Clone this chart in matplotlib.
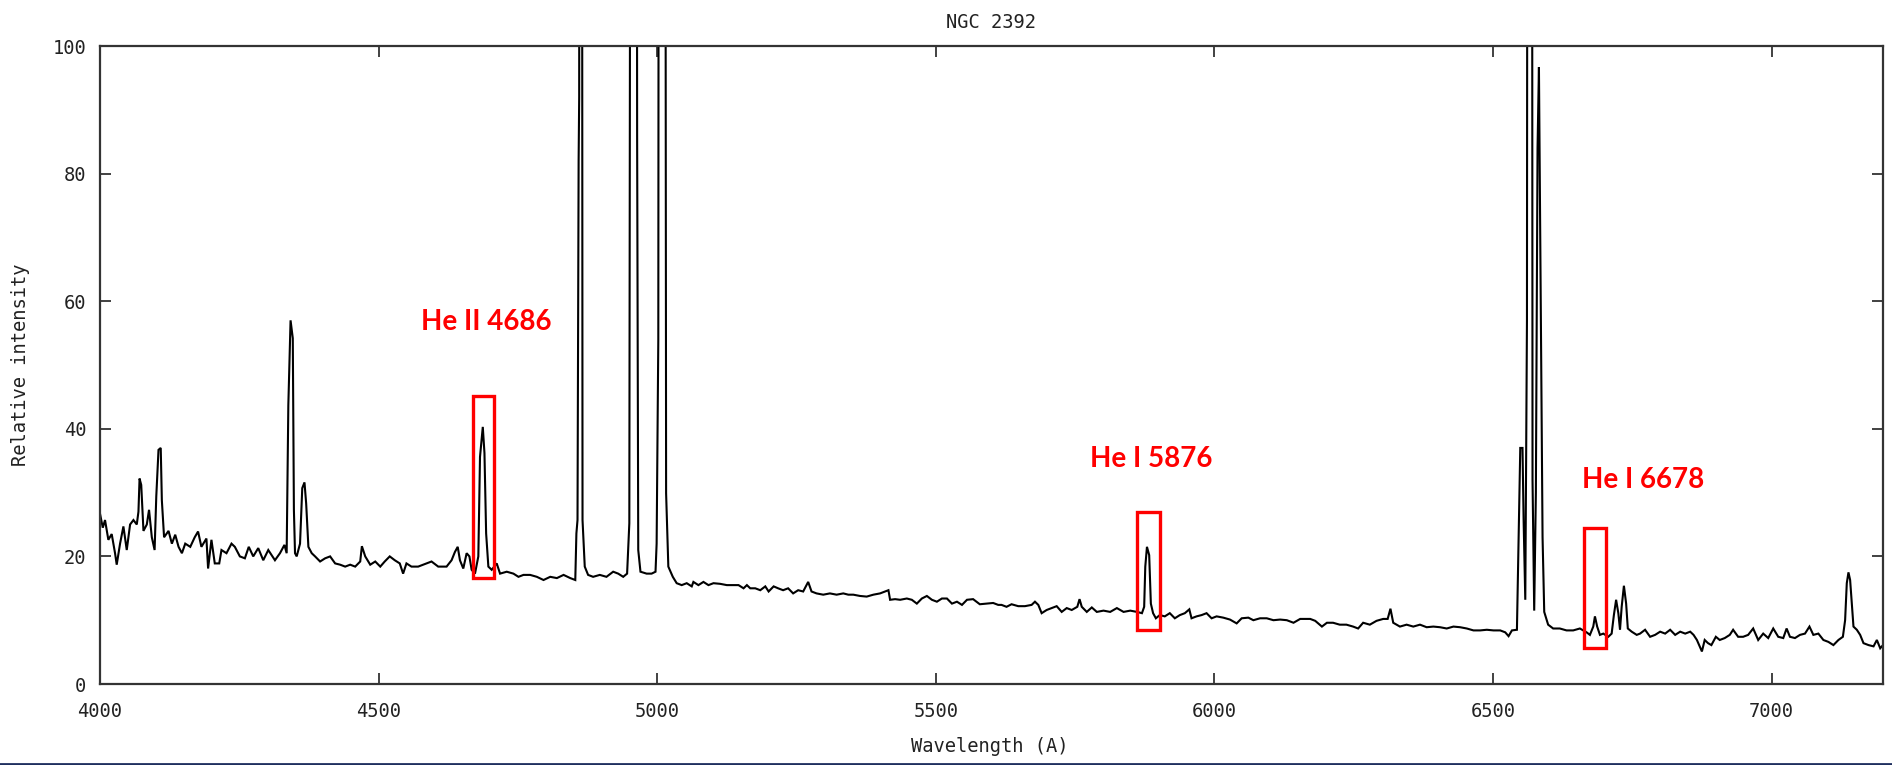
import matplotlib
matplotlib.use("Agg")
import matplotlib.pyplot as plt
from matplotlib.patches import Rectangle
from matplotlib.lines import Line2D

# ---------------- data ----------------
wavelength = [
    4000, 4005, 4009, 4015, 4021, 4027, 4030, 4036, 4042, 4048, 4054, 4060, 4066, 4069, 4071, 4074,
    4078, 4084, 4088, 4093, 4098, 4101, 4105, 4109, 4111, 4115, 4123, 4129, 4135, 4141, 4147, 4153,
    4162, 4170, 4176, 4182, 4191, 4194, 4200, 4206, 4214, 4218, 4227, 4236, 4242, 4251, 4260, 4267,
    4275, 4284, 4293, 4302, 4314, 4323, 4331, 4335, 4338, 4342, 4346, 4348, 4350, 4353, 4359, 4363,
    4367, 4370, 4374, 4380, 4386, 4395, 4404, 4413, 4422, 4431, 4440, 4449, 4458, 4467, 4470, 4476,
    4485, 4494, 4503, 4511, 4520, 4529, 4538, 4544, 4550, 4559, 4571, 4580, 4595, 4607, 4622, 4631,
    4637, 4642, 4646, 4652, 4658, 4663, 4667, 4673, 4679, 4682, 4687, 4690, 4693, 4697, 4703, 4712,
    4718, 4730, 4742, 4751, 4760, 4772, 4784, 4796, 4808, 4820, 4832, 4844, 4853, 4855, 4857, 4859,
    4860, 4861.5, 4864, 4866, 4870, 4876, 4885, 4897, 4909, 4921, 4930, 4939, 4946, 4950, 4954, 4962,
    4964, 4966, 4970, 4981, 4990, 4997, 4999, 5002, 5004, 5013, 5016, 5020, 5028, 5035, 5044, 5053,
    5062, 5065, 5074, 5083, 5092, 5101, 5113, 5125, 5137, 5146, 5155, 5161, 5167, 5176, 5185, 5194,
    5200, 5209, 5217, 5226, 5235, 5244, 5253, 5262, 5271, 5277, 5286, 5298, 5310, 5322, 5334, 5343,
    5352, 5364, 5376, 5388, 5400, 5409, 5415, 5418, 5427, 5436, 5448, 5457, 5466, 5475, 5484, 5493,
    5502, 5511, 5520, 5529, 5538, 5547, 5556, 5567, 5579, 5591, 5603, 5612, 5618, 5627, 5636, 5648,
    5660, 5672, 5678, 5684, 5690, 5699, 5708, 5717, 5726, 5735, 5744, 5754, 5758, 5762, 5771, 5780,
    5789, 5801, 5813, 5825, 5837, 5849, 5861, 5870, 5874, 5876, 5879, 5883, 5886, 5890, 5895, 5902,
    5911, 5920, 5929, 5938, 5947, 5955, 5959, 5968, 5977, 5986, 5995, 6004, 6016, 6028, 6040, 6049,
    6061, 6070, 6082, 6094, 6106, 6118, 6130, 6142, 6154, 6172, 6181, 6193, 6202, 6213, 6225, 6237,
    6249, 6258, 6267, 6279, 6291, 6303, 6311, 6316, 6321, 6333, 6345, 6357, 6369, 6381, 6393, 6405,
    6417, 6429, 6441, 6453, 6465, 6477, 6489, 6501, 6513, 6522, 6528, 6534, 6543, 6546, 6549, 6553,
    6555, 6558, 6561, 6563, 6569, 6571, 6574, 6577, 6580, 6582.5, 6585, 6589, 6592, 6599, 6608, 6620,
    6632, 6644, 6656, 6668, 6674, 6680, 6683, 6687, 6692, 6698, 6707, 6713, 6717, 6721, 6725, 6728,
    6731, 6735, 6739, 6742, 6749, 6758, 6764, 6773, 6782, 6791, 6800, 6809, 6818, 6827, 6836, 6845,
    6854, 6860, 6866, 6870, 6875, 6880, 6886, 6892, 6900, 6907, 6916, 6925, 6931, 6940, 6949, 6958,
    6967, 6976, 6985, 6994, 7003, 7012, 7021, 7027, 7033, 7042, 7051, 7060, 7068, 7075, 7084, 7093,
    7102, 7111, 7120, 7128, 7132, 7135, 7138, 7141, 7144, 7147, 7153, 7159, 7165, 7174, 7183, 7189,
    7195, 7200,
]

intensity = [
    26.7, 24.5, 25.7, 22.6, 23.5, 20.5, 18.7, 22.0, 24.7, 21.0, 25.0, 25.7, 25.0, 27.0, 32.2, 31.2,
    24.0, 25.0, 27.3, 23.0, 21.0, 29.4, 36.7, 37.0, 28.8, 23.0, 24.0, 22.0, 23.4, 21.5, 20.5, 22.0,
    21.5, 23.0, 23.9, 21.5, 22.8, 18.1, 22.6, 18.9, 18.9, 21.0, 20.5, 22.0, 21.5, 20.0, 19.7, 21.5,
    20.0, 21.3, 19.4, 21.0, 19.4, 20.5, 21.8, 20.5, 43.7, 57.0, 54.2, 27.3, 20.5, 20.0, 22.0, 30.7,
    31.6, 28.3, 21.5, 20.5, 20.0, 19.2, 19.7, 20.0, 18.9, 18.7, 18.4, 18.7, 18.4, 19.2, 21.6, 20.0,
    18.7, 19.2, 18.4, 19.2, 20.0, 19.4, 18.9, 17.3, 18.9, 18.4, 18.4, 18.7, 19.2, 18.4, 18.4, 19.4,
    20.7, 21.5, 19.4, 18.1, 20.5, 20.0, 17.9, 17.3, 20.0, 35.6, 40.3, 36.2, 23.6, 18.4, 17.9, 18.9,
    17.3, 17.6, 17.3, 16.8, 17.1, 17.1, 16.8, 16.3, 16.8, 16.6, 17.1, 16.6, 16.3, 23.6, 25.7, 82.0,
    92.0, 300.0, 300.0, 25.7, 18.4, 17.1, 16.8, 17.1, 16.8, 17.6, 17.3, 16.8, 17.3, 25.2, 300.0, 300.0,
    86.0, 21.0, 17.6, 17.3, 17.3, 17.6, 22.0, 54.0, 300.0, 300.0, 29.9, 18.4, 16.8, 15.8, 15.5, 15.8,
    15.3, 16.0, 15.5, 16.0, 15.5, 15.8, 15.7, 15.5, 15.5, 15.5, 15.0, 15.5, 15.0, 15.0, 14.7, 15.3,
    14.5, 15.3, 15.0, 14.7, 15.0, 14.2, 14.7, 14.5, 16.0, 14.5, 14.2, 14.0, 14.2, 14.0, 14.2, 14.0,
    14.0, 13.8, 13.7, 14.0, 14.2, 14.5, 14.7, 13.2, 13.3, 13.2, 13.4, 13.2, 12.6, 13.4, 13.8, 13.2,
    12.9, 13.4, 13.4, 12.6, 12.9, 12.4, 13.2, 13.3, 12.5, 12.6, 12.7, 12.4, 12.4, 12.1, 12.5, 12.2,
    12.2, 12.4, 12.9, 12.4, 11.1, 11.6, 11.9, 12.2, 11.3, 11.9, 11.6, 12.1, 13.3, 12.1, 11.3, 12.0,
    11.3, 11.5, 11.3, 11.9, 11.3, 11.5, 11.3, 11.1, 12.1, 18.4, 21.5, 20.2, 12.6, 11.1, 10.3, 10.8,
    10.6, 11.1, 10.3, 10.8, 11.1, 11.7, 10.3, 10.6, 10.8, 11.1, 10.3, 10.6, 10.4, 10.1, 9.5, 10.3,
    10.4, 10.0, 10.3, 10.3, 10.0, 10.1, 10.0, 9.6, 10.2, 10.2, 9.9, 9.0, 9.6, 9.6, 9.3, 9.3,
    9.0, 8.7, 9.6, 9.3, 9.9, 10.2, 10.2, 11.8, 9.6, 9.0, 9.3, 9.0, 9.3, 8.9, 9.0, 8.9,
    8.7, 9.0, 8.9, 8.7, 8.4, 8.4, 8.5, 8.4, 8.4, 8.1, 7.5, 8.4, 8.5, 22.9, 37.0, 37.0,
    25.7, 13.2, 57.0, 300.0, 300.0, 32.0, 11.5, 30.0, 84.0, 96.7, 68.0, 23.0, 11.3, 9.3, 8.7, 8.7,
    8.4, 8.4, 8.7, 8.1, 7.7, 9.0, 10.6, 9.0, 7.7, 7.9, 7.4, 7.9, 10.8, 13.2, 11.1, 8.5,
    12.1, 15.4, 12.6, 8.7, 8.2, 7.7, 7.9, 8.5, 7.4, 7.7, 8.2, 7.9, 8.5, 7.7, 8.2, 7.9,
    8.2, 7.7, 6.9, 6.1, 5.1, 6.9, 6.4, 6.1, 7.4, 6.9, 7.2, 7.7, 8.5, 7.4, 7.4, 7.7,
    8.7, 6.9, 7.9, 7.2, 8.7, 7.4, 7.2, 8.7, 7.4, 7.2, 7.7, 7.9, 9.0, 7.7, 7.9, 6.9,
    6.6, 6.1, 6.9, 7.4, 10.0, 15.8, 17.5, 16.3, 12.6, 9.0, 8.5, 7.7, 6.4, 6.1, 5.9, 6.9,
    5.6, 6.1,
]

# annotation texts and the wavelength/intensity windows they mark
line_labels = ["He II 4686", "He I 5876", "He I 6678"]
label_wl = [4577, 5776, 6660]
label_int = [56.8, 35.3, 32.0]
box_wl_lo = [4669, 5862, 6663]
box_wl_hi = [4707, 5902, 6702]
box_int_lo = [16.6, 8.5, 5.7]
box_int_hi = [45.2, 27.0, 24.4]

x_ticks = [4000, 4500, 5000, 5500, 6000, 6500, 7000]
y_ticks = [0, 20, 40, 60, 80, 100]

# ---------------- figure ----------------
plt.rcParams['font.family'] = ['DejaVu Sans Mono']
W, H = 1892, 765
fig = plt.figure(figsize=(W / 100, H / 100), dpi=100)
fig.patch.set_facecolor('white')

ax_l, ax_r, ax_t, ax_b = 100, 1883, 46, 684
ax = fig.add_axes([ax_l / W, 1 - ax_b / H, (ax_r - ax_l) / W, (ax_b - ax_t) / H])

ax.plot(wavelength, intensity, color='black', lw=1.5, solid_joinstyle='miter')
ax.set_xlim(4000, 7200)
ax.set_ylim(0, 100)
ax.set_xticks(x_ticks)
ax.set_yticks(y_ticks)

text_color = '#222222'
for s in ax.spines.values():
    s.set_color('#333333')
    s.set_linewidth(1.6)
ax.tick_params(direction='in', length=8, width=1.3, color='#333333',
               top=True, right=True, labelsize=13.5, labelcolor=text_color)
ax.tick_params(axis='x', pad=13)
ax.tick_params(axis='y', pad=10)

for lab, lx, ly, b0, b1, c0, c1 in zip(line_labels, label_wl, label_int,
                                       box_wl_lo, box_wl_hi, box_int_lo, box_int_hi):
    ax.add_patch(Rectangle((b0, c0), b1 - b0, c1 - c0, fill=False,
                           edgecolor='#ff0000', lw=2.4, zorder=5))
    ax.text(lx, ly, lab, color='#ff0000', fontsize=20, fontweight='bold',
            family=['Lato', 'DejaVu Sans'], ha='left', va='center', zorder=6)

fig.text(991 / W, 1 - 23 / H, 'NGC 2392', ha='center', va='center',
         fontsize=13.5, color=text_color)
fig.text(990 / W, 1 - 747 / H, 'Wavelength (A)', ha='center', va='center',
         fontsize=13.5, color=text_color)
fig.text(20 / W, 1 - 365 / H, 'Relative intensity', ha='center', va='center',
         rotation=90, fontsize=13.5, color=text_color)

# slide border line at the very bottom
fig.add_artist(Line2D([0, 1], [1.5 / H, 1.5 / H], transform=fig.transFigure,
                      color='#1f2f5f', lw=2))

fig.savefig('out.png', dpi=100)
